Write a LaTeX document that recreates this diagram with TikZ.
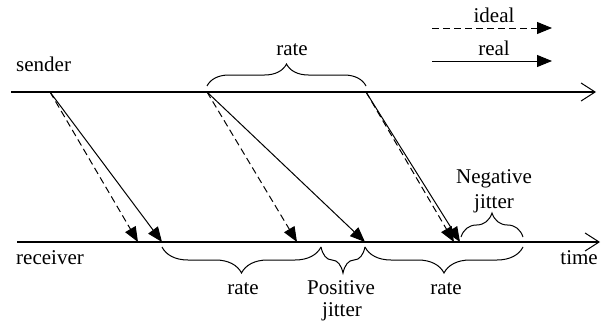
\documentclass[tikz,border=0pt]{standalone}
\usepackage{fontspec}
\setmainfont{Liberation Serif}
\usetikzlibrary{arrows.meta,decorations.pathreplacing}
\begin{document}
\begin{tikzpicture}[x=1pt,y=-1pt,
  axis/.style={line width=1.3pt,-{Straight Barb[length=14pt,width=18pt,line width=1pt]}},
  ideal/.style={line width=1pt,dash pattern=on 7pt off 4pt,-{Triangle[length=15pt,width=12pt]}},
  real/.style={line width=1pt,-{Triangle[length=15pt,width=12pt]}},
  brc/.style={decorate,line width=1pt,decoration={brace,amplitude=#1}},
  lbl/.style={font=\fontsize{21}{24}\selectfont,inner sep=0pt,anchor=base}]
\useasboundingbox (0,0) rectangle (605,324);
% axes
\coordinate (sA) at (11,92);
\coordinate (sB) at (596,92);
\coordinate (rA) at (17,242);
\coordinate (rB) at (600,242);
\draw[axis] (sA) -- (sB);
\draw[axis] (rA) -- (rB);
\node[lbl,anchor=base west] (snd) at (16,71) {sender};
\node[lbl,anchor=base west] (rcv) at (16,264) {receiver};
\node[lbl,anchor=base east] (tim) at (598,264) {time};
% send / receive points
\coordinate (s1) at (50,92);
\coordinate (s2) at (207,92);
\coordinate (s3) at (366,92);
\coordinate (i1) at (138,242);
\coordinate (r1) at (162,242);
\coordinate (i2) at (297,242);
\coordinate (r2) at (365,242);
\coordinate (i3) at (454,242);
\coordinate (r3) at (460,242);
\draw[ideal] (s1) -- (i1);
\draw[real] (s1) -- (r1);
\draw[ideal] (s2) -- (i2);
\draw[real] (s2) -- (r2);
\draw[ideal] (s3) -- (i3);
\draw[real] (s3) -- (r3);
% top brace
\coordinate (tb1) at (207,86);
\coordinate (tb2) at (366,86);
\draw[brc=22pt] (tb1) -- (tb2);
\node[lbl] (rtop) at (292,55) {rate};
% bottom braces
\coordinate (b0) at (162,247);
\coordinate (b1) at (321,247);
\coordinate (b2) at (365,247);
\coordinate (b3) at (523,247);
\draw[brc=26pt] (b1) -- (b0);
\draw[brc=26pt] (b2) -- (b1);
\draw[brc=26pt] (b3) -- (b2);
\node[lbl] (rl) at (243,294) {rate};
\node[lbl] (pj1) at (341,294) {Positive};
\node[lbl] (pj2) at (342,316) {jitter};
\node[lbl] (rr) at (446,294) {rate};
% negative jitter brace
\coordinate (n0) at (461,237);
\coordinate (n1) at (523,237);
\draw[brc=24pt] (n0) -- (n1);
\node[lbl] (nj1) at (494,183) {Negative};
\node[lbl] (nj2) at (494,208) {jitter};
% legend
\coordinate (l1a) at (432,28);
\coordinate (l1b) at (552,28);
\coordinate (l2a) at (432,61);
\coordinate (l2b) at (552,61);
\draw[ideal] (l1a) -- (l1b);
\draw[real] (l2a) -- (l2b);
\node[lbl] (lid) at (494,23) {ideal};
\node[lbl] (lre) at (494,55) {real};
\end{tikzpicture}
\end{document}
